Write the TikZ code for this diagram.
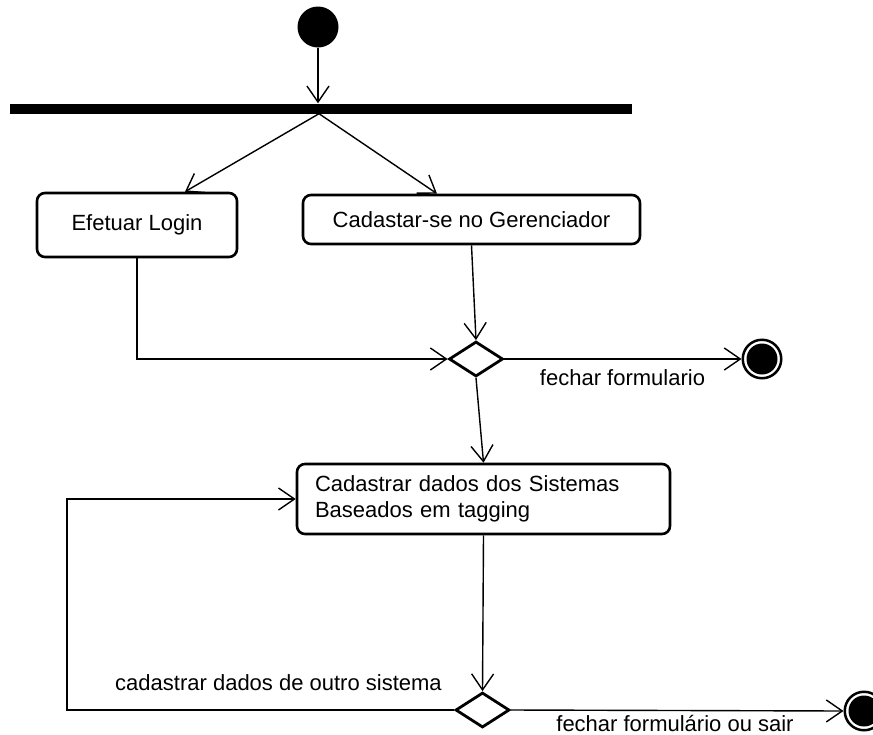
\documentclass[tikz,border=0pt]{standalone}
\usepackage{fontspec}
\setmainfont{Liberation Sans}
\usetikzlibrary{shapes.geometric,arrows.meta,calc}
\begin{document}
\begin{tikzpicture}[x=1pt,y=-1pt,
  font=\fontsize{22}{26}\selectfont,
  conn/.style={draw=black, line width=1.4pt, -{Straight Barb[length=16pt,width=22pt,line width=1.4pt]}},
  actbox/.style={draw, line width=2.6pt, rounded corners=8pt, inner sep=0pt},
  decbox/.style={diamond, draw, line width=2.8pt, inner sep=0pt, minimum width=54pt, minimum height=35pt},
  startnode/.style={circle, fill=black, minimum size=41pt, inner sep=0pt},
  endnode/.style={circle, draw, line width=2.5pt, minimum size=38.5pt, inner sep=0pt},
  lbl/.style={inner sep=0pt, anchor=base}
]
\useasboundingbox (0,0) rectangle (873,734);
\clip (0,0) rectangle (873,734);

\node[startnode] (start) at (318,27) {};
\node[fill=black, inner sep=0pt, minimum width=622pt, minimum height=10pt] (fork) at (320.5,108.5) {};
\node[actbox, minimum width=200pt, minimum height=64pt] (login) at (137,225) {Efetuar Login};
\node[actbox, minimum width=337pt, minimum height=49pt] (cad) at (471.5,219.5) {Cadastar-se no Gerenciador};
\node[decbox] (dec1) at (476,359) {};
\node[endnode] (end1) at (762,359) {};
\fill (end1.center) circle (15.5pt);
\node[actbox, minimum width=373pt, minimum height=70pt, text width=337pt, align=left, inner xsep=18pt] (act3) at (483.5,499) {Cadastrar dados dos Sistemas\\Baseados em tagging};
\node[decbox] (dec2) at (482.5,710) {};
\node[endnode] (end2) at (864,711) {};
\fill (end2.center) circle (15.5pt);

\coordinate (fs) at ($(fork.south)+(-1.5,0)$);
\coordinate (lp) at (67,0);

\draw[conn] (start) -- (start.center |- fork.north);
\draw[conn] (fs) -- ($(login.north)+(48,0)$);
\draw[conn] (fs) -- ($(cad.north)+(-34.5,0)$);
\draw[conn] (login.south) |- (dec1.west);
\draw[conn] (cad.south) -- (dec1.north);
\draw[conn] (dec1.east) -- (end1.west);
\node[lbl] (l1) at (622.5,385) {fechar formulario};
\draw[conn] (dec1.south) -- (act3.north);
\draw[conn] (act3.south) -- (dec2.north);
\draw[conn] (dec2.west) -- (dec2.west -| lp) |- (act3.west);
\node[lbl] (l2) at (278.5,690) {cadastrar dados de outro sistema};
\draw[conn] (dec2.east) -- (end2.west);
\node[lbl] (l3) at (675,731) {fechar formulário ou sair};
\end{tikzpicture}
\end{document}
